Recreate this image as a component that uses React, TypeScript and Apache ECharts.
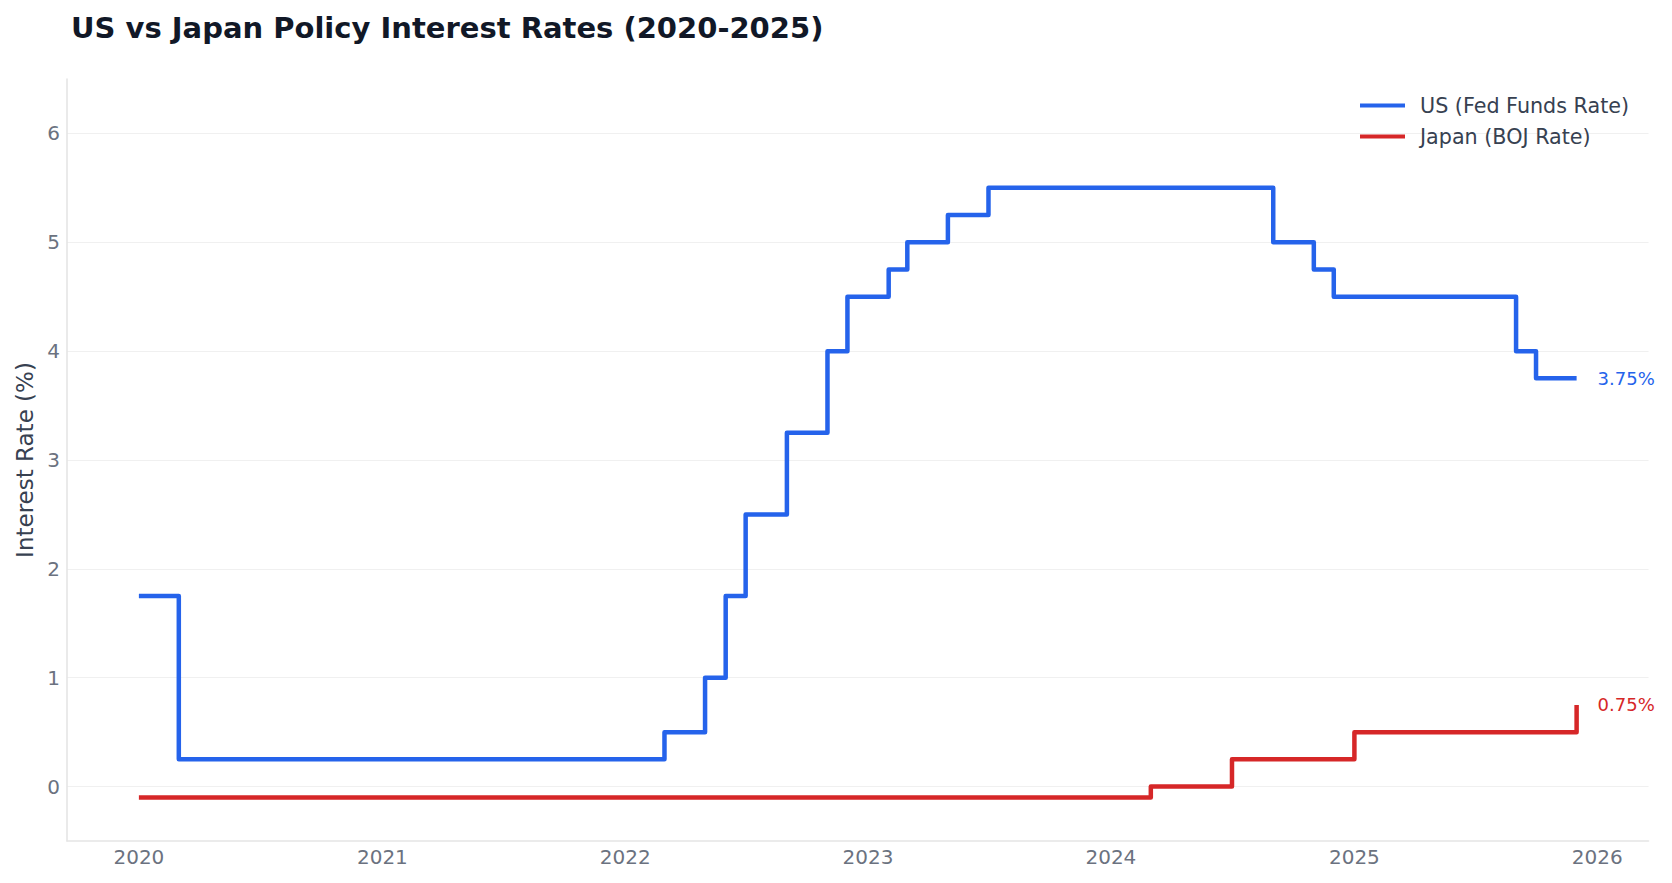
import React, { useEffect, useRef } from "react";
import * as echarts from "echarts";

// ---- Data ----
const US_DATES = [
  "2020-01-01", "2020-03-01", "2022-03-01", "2022-05-01", "2022-06-01",
  "2022-07-01", "2022-09-01", "2022-11-01", "2022-12-01", "2023-02-01",
  "2023-03-01", "2023-05-01", "2023-07-01", "2024-09-01", "2024-11-01",
  "2024-12-01", "2025-09-01", "2025-10-01", "2025-12-01",
];
const US_RATES = [
  1.75, 0.25, 0.5, 1.0, 1.75,
  2.5, 3.25, 4.0, 4.5, 4.75,
  5.0, 5.25, 5.5, 5.0, 4.75,
  4.5, 4.0, 3.75, 3.75,
];
const JP_DATES = ["2020-01-01", "2024-03-01", "2024-07-01", "2025-01-01", "2025-12-01"];
const JP_RATES = [-0.1, 0.0, 0.25, 0.5, 0.75];

const YEAR_TICKS = ["2020", "2021", "2022", "2023", "2024", "2025", "2026"];
const RATE_TICKS = [0, 1, 2, 3, 4, 5, 6];

const US_NAME = "US (Fed Funds Rate)";
const JP_NAME = "Japan (BOJ Rate)";
const TITLE = "US vs Japan Policy Interest Rates (2020-2025)";

const FONT = "DejaVu Sans";
const toTs = (d: string) => Date.parse(d + "T00:00:00Z");

export default function App() {
  const ref = useRef<HTMLDivElement>(null);

  useEffect(() => {
    if (!ref.current) return;
    const chart = echarts.init(ref.current, null, { renderer: "svg" });

    const usData = US_DATES.map((d, i) => [toTs(d), US_RATES[i]]);
    const jpData = JP_DATES.map((d, i) => [toTs(d), JP_RATES[i]]);
    const first = toTs(US_DATES[0]);
    const last = toTs(US_DATES[US_DATES.length - 1]);
    const pad = (last - first) * 0.05;
    const yearTs = YEAR_TICKS.map((y) => toTs(y + "-01-01"));

    const endLabel = (color: string) => ({
      show: true,
      formatter: (p: any) => Number(p.value[1]).toFixed(2) + "%",
      distance: 21,
      color,
      fontSize: 18,
      fontFamily: FONT,
    });

    chart.setOption({
      animation: false,
      backgroundColor: "#ffffff",
      title: {
        text: TITLE,
        left: 66,
        top: 8,
        textStyle: { fontFamily: FONT, fontSize: 29, fontWeight: "bold", color: "#111827" },
      },
      legend: {
        data: [US_NAME, JP_NAME],
        orient: "vertical",
        left: 1355,
        top: 89,
        icon: "rect",
        itemWidth: 45,
        itemHeight: 4,
        itemGap: 8,
        textStyle: {
          fontFamily: FONT,
          fontSize: 20.7,
          color: "#374151",
          lineHeight: 23,
          padding: [0, 0, 0, 10],
        },
      },
      grid: {
        left: 67,
        right: 23.5,
        top: 79,
        bottom: 42,
        containLabel: false,
        outerBoundsMode: "none",
      },
      xAxis: {
        type: "value",
        min: first - pad,
        max: last + pad,
        axisLine: { show: true, onZero: false, lineStyle: { color: "#e5e5e5", width: 1.6 } },
        axisTick: { show: false, customValues: yearTs },
        axisLabel: {
          customValues: yearTs,
          formatter: (v: number) => String(new Date(v).getUTCFullYear()),
          color: "#6b7280",
          fontSize: 20,
          fontFamily: FONT,
          margin: 6,
        },
        splitLine: { show: false },
      },
      yAxis: {
        type: "value",
        min: -0.5,
        max: 6.5,
        name: "Interest Rate (%)",
        nameLocation: "middle",
        nameGap: 28,
        nameTextStyle: { color: "#374151", fontSize: 23, fontFamily: FONT },
        axisLine: { show: true, onZero: false, lineStyle: { color: "#e5e5e5", width: 1.6 } },
        axisTick: { show: false, customValues: RATE_TICKS },
        axisLabel: {
          customValues: RATE_TICKS,
          color: "#6b7280",
          fontSize: 20,
          fontFamily: FONT,
          margin: 7,
        },
        splitLine: { show: true, lineStyle: { color: "#f0f0f0", width: 1.2 } },
      },
      series: [
        {
          name: US_NAME,
          type: "line",
          step: "end",
          data: usData,
          showSymbol: false,
          color: "#2563eb",
          lineStyle: { width: 4.5, color: "#2563eb", join: "round" },
          endLabel: endLabel("#2563eb"),
          emphasis: { disabled: true },
        },
        {
          name: JP_NAME,
          type: "line",
          step: "end",
          data: jpData,
          showSymbol: false,
          color: "#d62728",
          lineStyle: { width: 4.5, color: "#d62728", join: "round" },
          endLabel: endLabel("#d62728"),
          emphasis: { disabled: true },
        },
      ],
    });

    return () => chart.dispose();
  }, []);

  return (
    <div
      ref={ref}
      style={{ position: "fixed", left: 0, top: 0, width: 1672, height: 883, background: "#fff" }}
    />
  );
}
